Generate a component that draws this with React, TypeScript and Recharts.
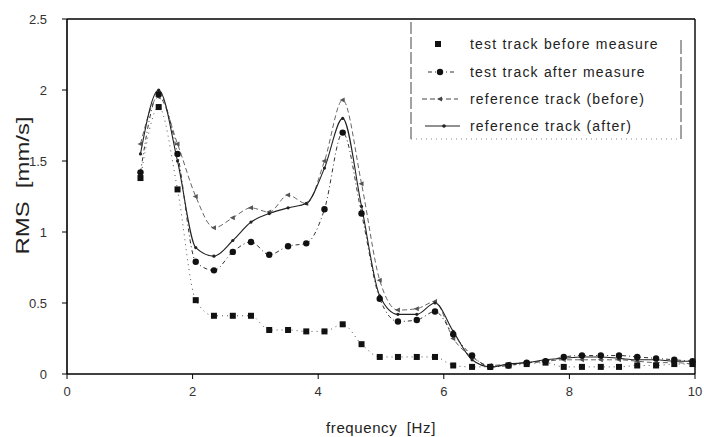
import React from "react";
import { LineChart, Line, XAxis, YAxis, Legend, ReferenceLine } from "recharts";

// frequency bins [Hz]
const freq = [
  1.17, 1.46, 1.76, 2.05, 2.34, 2.64, 2.93, 3.22, 3.52, 3.81, 4.1, 4.39, 4.69, 4.98, 5.27, 5.57,
  5.86, 6.15, 6.45, 6.74, 7.03, 7.32, 7.62, 7.91, 8.2, 8.5, 8.79, 9.08, 9.38, 9.67, 9.96,
];

// RMS [mm/s]
const testBefore = [
  1.38, 1.88, 1.3, 0.52, 0.41, 0.41, 0.41, 0.31, 0.31, 0.3, 0.3, 0.35, 0.21, 0.12, 0.12, 0.12,
  0.12, 0.06, 0.05, 0.05, 0.06, 0.07, 0.08, 0.05, 0.05, 0.05, 0.05, 0.06, 0.06, 0.07, 0.07,
];
const testAfter = [
  1.42, 1.97, 1.55, 0.79, 0.73, 0.86, 0.93, 0.84, 0.9, 0.92, 1.16, 1.7, 1.13, 0.53, 0.37, 0.38,
  0.44, 0.28, 0.13, 0.05, 0.06, 0.08, 0.09, 0.12, 0.13, 0.13, 0.13, 0.12, 0.11, 0.1, 0.09,
];
const refBefore = [
  1.62, 1.95, 1.62, 1.25, 1.03, 1.1, 1.17, 1.14, 1.26, 1.2, 1.5, 1.93, 1.34, 0.66, 0.45, 0.46,
  0.51, 0.25, 0.12, 0.06, 0.07, 0.08, 0.09, 0.1, 0.1, 0.1, 0.1, 0.09, 0.08, 0.08, 0.07,
];
const refAfter = [
  1.55, 2.0, 1.5, 0.89, 0.83, 0.94, 1.07, 1.13, 1.17, 1.2, 1.45, 1.8, 1.18, 0.55, 0.42, 0.42,
  0.5, 0.3, 0.1, 0.05, 0.07, 0.08, 0.1, 0.11, 0.12, 0.12, 0.11, 0.1, 0.1, 0.09, 0.09,
];

const xTicks = [0, 2, 4, 6, 8, 10];
const yTicks = [0, 0.5, 1, 1.5, 2, 2.5];

const seriesNames = [
  "test track before measure",
  "test track after measure",
  "reference track (before)",
  "reference track (after)",
];

const data = freq.map((f, i) => ({
  f,
  testBefore: testBefore[i],
  testAfter: testAfter[i],
  refBefore: refBefore[i],
  refAfter: refAfter[i],
}));

const FONT = "'Liberation Sans', Arial, Helvetica, sans-serif";

const SquareDot = (p: any) => (
  <rect key={`sq-${p.index}`} x={p.cx - 3} y={p.cy - 3} width={6} height={6} fill="#111" />
);
const CircleDot = (p: any) => (
  <circle key={`ci-${p.index}`} cx={p.cx} cy={p.cy} r={3.2} fill="#111" />
);
const TriDot = (p: any) => (
  <path
    key={`tr-${p.index}`}
    d={`M${p.cx - 3},${p.cy} L${p.cx + 2},${p.cy - 2.5} L${p.cx + 2},${p.cy + 2.5} Z`}
    fill="#555"
  />
);
const SmallDot = (p: any) => (
  <circle key={`sd-${p.index}`} cx={p.cx} cy={p.cy} r={1.6} fill="#222" />
);

const LegendBox = () => {
  const rows = [24, 52, 79, 106];
  return (
    <svg width={274} height={122} style={{ display: "block", fontFamily: FONT }}>
      <line x1={1} y1={2} x2={1} y2={119} stroke="#444" strokeDasharray="12 3" />
      <line x1={271} y1={20} x2={271} y2={119} stroke="#444" strokeDasharray="14 3" />
      <line x1={1} y1={119} x2={271} y2={119} stroke="#888" strokeDasharray="1 4" />
      {/* row 1 */}
      <rect x={25} y={rows[0] - 3} width={6} height={6} fill="#111" />
      {/* row 2 */}
      <line x1={18} y1={rows[1]} x2={46} y2={rows[1]} stroke="#333" strokeDasharray="4 3 1 3" />
      <circle cx={30} cy={rows[1]} r={3.2} fill="#111" />
      {/* row 3 */}
      <line x1={12} y1={rows[2]} x2={48} y2={rows[2]} stroke="#444" strokeDasharray="5 3" />
      <path d={`M27,${rows[2]} L32,${rows[2] - 2.5} L32,${rows[2] + 2.5} Z`} fill="#444" />
      {/* row 4 */}
      <line x1={15} y1={rows[3]} x2={50} y2={rows[3]} stroke="#222" strokeWidth={1.2} />
      <circle cx={34} cy={rows[3]} r={1.8} fill="#222" />
      {seriesNames.map((name, i) => (
        <text
          key={name}
          x={60}
          y={rows[i]}
          dominantBaseline="central"
          fontSize={14}
          letterSpacing={1.2}
          fill="#222"
        >
          {name}
        </text>
      ))}
    </svg>
  );
};

const XTitle = (p: any) => {
  const vb = p.viewBox;
  return (
    <text
      x={vb.x + vb.width / 2}
      y={vb.y + vb.height - 1}
      textAnchor="middle"
      fontSize={15}
      letterSpacing={0.6}
      fill="#222"
      fontFamily={FONT}
    >
      {"frequency\u00a0\u00a0[Hz]"}
    </text>
  );
};

const YTitle = (p: any) => {
  const vb = p.viewBox;
  const cx = vb.x + 12;
  const cy = vb.y + vb.height / 2 - 11;
  return (
    <text
      x={cx}
      y={cy}
      transform={`rotate(-90, ${cx}, ${cy})`}
      textAnchor="middle"
      dominantBaseline="central"
      fontSize={19}
      textLength={138}
      lengthAdjust="spacingAndGlyphs"
      fill="#222"
      fontFamily={FONT}
    >
      {"RMS\u00a0\u00a0[mm/s]"}
    </text>
  );
};

export default function App() {
  return (
    <div
      style={{
        position: "absolute",
        left: 0,
        top: 0,
        width: 704,
        height: 437,
        background: "#fff",
        fontFamily: FONT,
      }}
    >
      <LineChart
        width={704}
        height={437}
        data={data}
        margin={{ top: 19, right: 9, bottom: 3, left: 10 }}
      >
        <XAxis
          dataKey="f"
          type="number"
          domain={[0, 10]}
          ticks={xTicks}
          tickSize={5}
          tickMargin={8}
          height={60}
          axisLine={{ stroke: "#000", strokeWidth: 1.6 }}
          tickLine={{ stroke: "#000" }}
          tick={{ fill: "#333", fontSize: 13, fontFamily: FONT }}
          label={{ content: XTitle }}
        />
        <YAxis
          type="number"
          domain={[0, 2.5]}
          ticks={yTicks}
          width={57}
          tickSize={5}
          tickMargin={15}
          axisLine={{ stroke: "#000", strokeWidth: 1.6 }}
          tickLine={{ stroke: "#000" }}
          tick={{ fill: "#333", fontSize: 13, fontFamily: FONT }}
          label={{ content: YTitle }}
        />
        <ReferenceLine y={2.5} stroke="#000" strokeWidth={1.4} />
        <ReferenceLine x={10} stroke="#000" strokeWidth={1.4} />
        <Line
          type="monotone"
          dataKey="refBefore"
          name={seriesNames[2]}
          stroke="#666"
          strokeWidth={1}
          strokeDasharray="5 3"
          dot={TriDot}
          activeDot={false}
          isAnimationActive={false}
        />
        <Line
          type="monotone"
          dataKey="refAfter"
          name={seriesNames[3]}
          stroke="#222"
          strokeWidth={1.1}
          dot={SmallDot}
          activeDot={false}
          isAnimationActive={false}
        />
        <Line
          type="monotone"
          dataKey="testAfter"
          name={seriesNames[1]}
          stroke="#333"
          strokeWidth={1}
          strokeDasharray="4 3 1 3"
          dot={CircleDot}
          activeDot={false}
          isAnimationActive={false}
        />
        <Line
          type="monotone"
          dataKey="testBefore"
          name={seriesNames[0]}
          stroke="#555"
          strokeWidth={1}
          strokeDasharray="1 4"
          dot={SquareDot}
          activeDot={false}
          isAnimationActive={false}
        />
        <Legend
          layout="vertical"
          align="center"
          verticalAlign="middle"
          wrapperStyle={{ left: 410, top: 20, width: 274, height: 122 }}
          content={LegendBox}
        />
      </LineChart>
    </div>
  );
}
